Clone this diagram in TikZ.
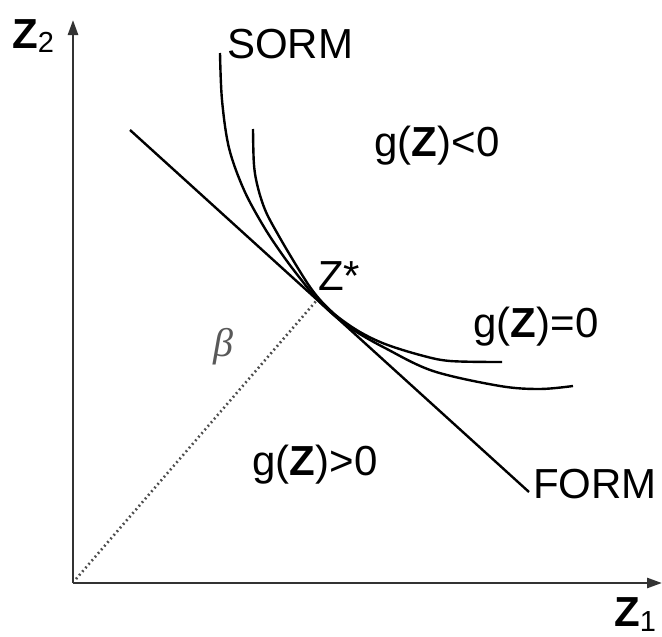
\documentclass[tikz,border=0pt]{standalone}
\usepackage{fontspec}
\setmainfont{Liberation Sans}
\newfontfamily\betafont{Liberation Serif}
\usetikzlibrary{arrows.meta}
\tikzset{
  lbl/.style={inner sep=0pt, font=\fontsize{42}{42}\selectfont},
  axis/.style={line width=2.6pt, draw=black!80, -{Triangle[length=15pt,width=10pt]}},
  curve/.style={line width=2.4pt, black},
  betaline/.style={line width=2.6pt, black!70, dash pattern=on 1.8pt off 3pt},
}
\newcommand{\gZ}[1]{g(\textbf{Z})#1}
\begin{document}
\begin{tikzpicture}[x=1pt,y=-1pt]
\useasboundingbox (0,0) rectangle (662,637);
% axes
\coordinate (O) at (73,583);
\coordinate (ytip) at (73,20);
\coordinate (xtip) at (662,583);
\draw[axis] (O) -- (ytip);
\draw[axis] (O) -- (xtip);
\node[lbl, anchor=base west] (z2) at (12,48) {\textbf{Z}\raisebox{-5pt}{\fontsize{29}{29}\selectfont 2}};
\node[lbl, anchor=base west] (z1) at (614,626) {\textbf{Z}\raisebox{-5pt}{\fontsize{29}{29}\selectfont 1}};
% FORM line
\coordinate (f1) at (130,130);
\coordinate (f2) at (529,492);
\draw[curve] (f1) -- (f2);
% Z* and beta
\coordinate (zs) at (317,300);
\coordinate (O2) at (76,579);
\draw[betaline] (O2) -- (zs);
% SORM curves
\draw[curve] plot[smooth, tension=0.55] coordinates {(220,53) (222,100) (229,148) (244,190) (264,227) (284,257) (303,282) (318,300) (335,316) (355,331) (385,348) (433,371) (500,386) (540,389) (573,386)};
\draw[curve] plot[smooth, tension=0.55] coordinates {(253,129) (254,165) (258,188) (266,212) (280,238) (296,265) (310,287) (322,302) (338,317) (360,332) (385,344) (420,355) (450,361) (502,362)};
% labels
\node[lbl] (sorm) at (290,44) {SORM};
\node[lbl] (form) at (595,484) {FORM};
\node[lbl, anchor=base west] (zstar) at (318,290) {Z*};
\node[lbl] (gneg) at (437,146) {\gZ{<0}};
\node[lbl] (gzero) at (536,327) {\gZ{=0}};
\node[lbl] (gpos) at (315,465) {\gZ{>0}};
\node[inner sep=0pt, text=black!65, font=\betafont\itshape\fontsize{40}{40}\selectfont] (beta) at (223,347) {β};
\end{tikzpicture}
\end{document}
